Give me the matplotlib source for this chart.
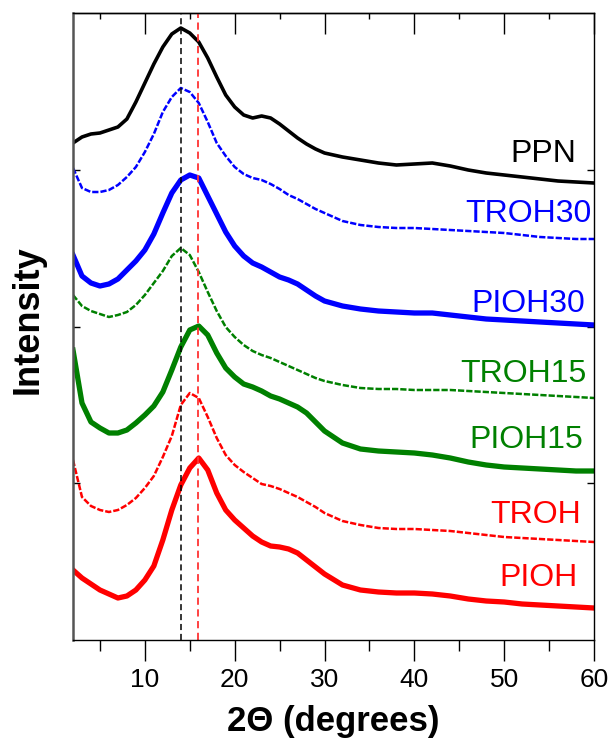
import matplotlib
matplotlib.use("Agg")
import matplotlib.pyplot as plt
from matplotlib.ticker import MultipleLocator

plt.rcParams['font.family'] = ['Liberation Sans', 'DejaVu Sans']

# 2-theta grid (degrees)
two_theta = [2, 3, 4, 5, 6, 7, 8, 9, 10, 11, 12, 13, 14, 15, 16, 17, 18, 19, 20, 21,
             22, 23, 24, 25, 26, 27, 28, 29, 30,
             32, 34, 36, 38, 40, 42, 44, 46, 48, 50, 52, 54, 56, 58, 60]

# stacked intensities (a.u., offset curves)
ppn = [497, 503, 506, 507, 510, 513, 521, 538, 557, 576, 593, 606, 612, 607, 598, 582, 563, 545, 533, 525,
       522, 524, 522, 516, 509, 502, 496, 491, 487,
       483, 480, 477, 475, 476, 477, 474, 470, 467, 465, 463, 461, 459, 458, 457]
troh30 = [472, 452, 448, 448, 450, 455, 463, 473, 488, 506, 528, 543, 552, 548, 537, 518, 497, 484, 473, 466,
          462, 460, 456, 451, 445, 441, 436, 431, 427,
          419, 415, 413, 412, 412, 411, 410, 409, 408, 407, 405, 403, 402, 401, 401]
pioh30 = [385, 364, 357, 354, 356, 361, 370, 379, 390, 406, 427, 447, 460, 465, 462, 444, 426, 408, 394, 384,
          377, 373, 368, 363, 360, 356, 350, 344, 339,
          334, 331, 329, 328, 327, 327, 325, 323, 321, 320, 319, 318, 317, 316, 315]
troh15 = [345, 334, 329, 326, 323, 325, 328, 335, 345, 357, 369, 384, 392, 385, 368, 348, 329, 313, 303, 295,
          289, 285, 282, 278, 274, 270, 266, 262, 259,
          255, 252, 251, 251, 250, 250, 250, 249, 248, 247, 246, 245, 244, 243, 242]
pioh15 = [290, 237, 218, 212, 207, 207, 210, 217, 225, 234, 248, 270, 293, 310, 314, 305, 287, 272, 263, 256,
          253, 249, 244, 241, 237, 233, 227, 218, 209,
          197, 191, 189, 188, 187, 185, 182, 178, 175, 173, 172, 171, 170, 169, 169]
troh = [180, 143, 134, 130, 128, 130, 135, 142, 152, 164, 183, 204, 235, 247, 242, 223, 202, 185, 175, 168,
        162, 156, 154, 151, 147, 143, 138, 133, 127,
        119, 115, 112, 111, 111, 110, 109, 107, 105, 103, 102, 101, 100, 99, 98]
pioh = [70, 62, 56, 50, 46, 42, 44, 50, 60, 74, 100, 130, 155, 172, 182, 170, 147, 130, 120, 112,
        104, 98, 94, 93, 91, 87, 80, 73, 66,
        55, 50, 48, 47, 47, 46, 44, 41, 39, 38, 36, 35, 34, 33, 32]

names = ["PPN", "TROH30", "PIOH30", "TROH15", "PIOH15", "TROH", "PIOH"]
series = [ppn, troh30, pioh30, troh15, pioh15, troh, pioh]
colors = ["black", "#0000ff", "#0000ff", "#008000", "#008000", "#ff0000", "#ff0000"]
styles = ["-", (0, (2.5, 0.8)), "-", (0, (2.5, 0.8)), "-", (0, (2.5, 0.8)), "-"]
widths = [2.6, 1.8, 3.8, 1.8, 3.8, 1.8, 3.8]

# label anchors (right edge x in degrees, baseline y)
label_x = [58.0, 59.7, 59.0, 59.2, 58.8, 58.6, 58.2]
label_y = [478, 418, 328, 258, 192, 117, 54]

# reference peak positions
peak_black = 14.0
peak_red = 15.9

fig = plt.figure(figsize=(6.11, 7.45), dpi=100)
ax = fig.add_axes([73 / 611, 105 / 745, 521 / 611, 627 / 745])

for y, c, ls, lw in zip(series, colors, styles, widths):
    ax.plot(two_theta, y, color=c, linestyle=ls, linewidth=lw,
            solid_joinstyle='round', dash_joinstyle='round')

ax.axvline(peak_black, color="black", linestyle=(0, (4, 2.5)), linewidth=1.1)
ax.axvline(peak_red, color="#ff3333", linestyle=(0, (4, 2.5)), linewidth=1.3)

for name, c, tx, ty in zip(names, colors, label_x, label_y):
    ax.text(tx, ty, name, color=c, fontsize=23, ha="right", va="baseline")

ax.set_xlim(2, 60)
ax.set_ylim(0, 627)
ax.xaxis.set_major_locator(MultipleLocator(10))
ax.xaxis.set_minor_locator(MultipleLocator(5))
ax.set_yticks([157, 313, 470])
ax.set_yticklabels([])
ax.tick_params(axis="x", which="major", direction="out", length=15, width=1, labelsize=19, pad=5, top=False)
ax.tick_params(axis="x", which="minor", direction="out", length=8, width=1, top=False)
ax.tick_params(axis="y", which="major", direction="in", length=5, width=1, right=True, left=True)

# top axis ticks point into the plot
top = ax.secondary_xaxis("top")
top.xaxis.set_major_locator(MultipleLocator(10))
top.xaxis.set_minor_locator(MultipleLocator(5))
top.tick_params(which="major", direction="in", length=15, width=1, labeltop=False)
top.tick_params(which="minor", direction="in", length=4, width=1)
top.spines["top"].set_linewidth(1.0)

for s in ["top", "right", "bottom"]:
    ax.spines[s].set_linewidth(1.0)
ax.spines["left"].set_linewidth(1.8)
ax.spines["left"].set_color("#555555")

fig.text(333 / 611, (745 - 722) / 745, "2\u0398 (degrees)", fontsize=25, fontweight="bold",
         ha="center", va="center")
fig.text(28 / 611, (745 - 320) / 745, "Intensity", fontsize=26, fontweight="bold",
         rotation=90, ha="center", va="center")

fig.savefig("out.png", dpi=100)
